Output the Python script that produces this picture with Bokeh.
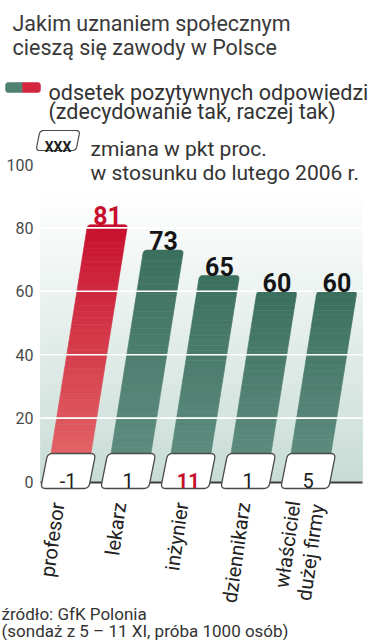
import numpy as np
from bokeh.plotting import figure
from bokeh.models import Range1d
from bokeh.core.properties import value
from bokeh.embed import file_html
from bokeh.resources import INLINE

# ---------------- data ----------------
categories = ["profesor", "lekarz", "inżynier", "dziennikarz", "właściciel\ndużej firmy"]
values = [81, 73, 65, 60, 60]
changes = ["-1", "1", "11", "1", "5"]
bar_highlight = [True, False, False, False, False]
change_highlight = [False, False, True, False, False]
y_ticks = [0, 20, 40, 60, 80, 100]
grid_ticks = [20, 40, 60, 80]
title_lines = ["Jakim uznaniem społecznym", "cieszą się zawody w Polsce"]
legend_lines = ["odsetek pozytywnych odpowiedzi", "(zdecydowanie tak, raczej tak)"]
change_lines = ["zmiana w pkt proc.", "w stosunku do lutego 2006 r."]
source_lines = ["źródło: GfK Polonia", "(sondaż z 5 – 11 XI, próba 1000 osób)"]

# ---------------- layout ----------------
W, H = 374, 640
Y0 = 481.0      # page pixel of value 0
K = 3.17        # pixels per percentage point
def V(Y):       # page pixel row -> value units
    return (Y0 - Y) / K

BAR_X0, BAR_STEP, BAR_W, SLANT = 66.0, 60.0, 40.0, 0.16
PLOT_L, PLOT_R, PLOT_TOP = 40.0, 362.0, 188.0
FONT = value("Roboto")

RED_TOP, RED_BOT = (200, 16, 46), (228, 108, 108)
GRN_TOP, GRN_BOT = (60, 112, 94), (98, 144, 132)
BG_TOP, BG_BOT = (255, 255, 255), (200, 220, 214)

def lerp(c1, c2, f):
    return "#%02x%02x%02x" % tuple(int(round(a + (b - a) * f)) for a, b in zip(c1, c2))

def rounded_poly(pts, radii, n=7):
    pts = np.array(pts, float)
    xs, us = [], []
    m = len(pts)
    for i in range(m):
        p = pts[i]
        r = radii[i]
        if r <= 0:
            xs.append(p[0]); us.append(p[1]); continue
        da = pts[i - 1] - p
        db = pts[(i + 1) % m] - p
        a = p + da / np.hypot(*da) * r
        b = p + db / np.hypot(*db) * r
        for t in np.linspace(0, 1, n):
            q = (1 - t) ** 2 * a + 2 * (1 - t) * t * p + t ** 2 * b
            xs.append(q[0]); us.append(q[1])
    return xs, [u / K for u in us]

def slanted_box(cx, u_bot, u_top, w, slant, radii):
    h2 = (u_top - u_bot) / 2.0
    pts = [(cx - w / 2 - slant * h2, u_bot), (cx + w / 2 - slant * h2, u_bot),
           (cx + w / 2 + slant * h2, u_top), (cx - w / 2 + slant * h2, u_top)]
    return rounded_poly(pts, radii)

p = figure(width=W, height=H, x_range=Range1d(0, W), y_range=Range1d(V(H), V(0)),
           output_backend="svg", toolbar_location=None, min_border=0,
           x_axis_location=None, y_axis_location=None)
p.grid.visible = False
p.outline_line_color = None
p.background_fill_color = "white"
p.border_fill_color = "white"

# ---- background gradient ----
NB = 60
top_v = V(PLOT_TOP)
bx, by, bc = [], [], []
for k in range(NB):
    v0 = top_v * k / NB
    v1 = top_v * (k + 1) / NB
    bx.append([PLOT_L, PLOT_R, PLOT_R, PLOT_L])
    by.append([v0, v0, v1, v1])
    bc.append(lerp(BG_BOT, BG_TOP, (k + 0.5) / NB))
p.patches(xs=bx, ys=by, fill_color=bc, line_color=bc, line_width=0.8)

# ---- bars (slanted, gradient) ----
xs, ys, cs = [], [], []
NS = 40
CAP = 5.0
for i, val in enumerate(values):
    cx0 = BAR_X0 + i * BAR_STEP
    ctop, cbot = (RED_TOP, RED_BOT) if bar_highlight[i] else (GRN_TOP, GRN_BOT)
    u_top = val * K
    u_cap = u_top - CAP
    for k in range(NS):
        u0 = u_cap * k / NS
        u1 = u_cap * (k + 1) / NS
        c0 = cx0 + SLANT * u0
        c1 = cx0 + SLANT * u1
        xs.append([c0 - BAR_W / 2, c0 + BAR_W / 2, c1 + BAR_W / 2, c1 - BAR_W / 2])
        ys.append([u0 / K, u0 / K, u1 / K, u1 / K])
        cs.append(lerp(cbot, ctop, (u0 + u1) / 2 / u_top))
    cmid = cx0 + SLANT * (u_cap + CAP / 2)
    px, py = slanted_box(cmid, u_cap - 0.3, u_top, BAR_W, SLANT, [0, 0, 3.5, 3.5])
    xs.append(px); ys.append(py); cs.append(lerp(cbot, ctop, 1.0))
p.patches(xs=xs, ys=ys, fill_color=cs, line_color=cs, line_width=0.6)

# ---- grid lines (on top of bars) ----
p.segment(x0=[PLOT_L] * len(grid_ticks), x1=[PLOT_R] * len(grid_ticks),
          y0=grid_ticks, y1=grid_ticks, line_color="white", line_width=1.6)

# ---- baseline ----
p.segment(x0=[PLOT_L], x1=[PLOT_R], y0=[-0.3], y1=[-0.3], line_color="#3c3c3c", line_width=2)

# ---- tick labels ----
p.text(x=[33] * len(y_ticks), y=y_ticks, text=[str(t) for t in y_ticks],
       text_font=FONT, text_font_size="16px", text_color="#4a4a4a",
       text_align="right", text_baseline="middle")

# ---- value labels ----
vx = [BAR_X0 + i * BAR_STEP + SLANT * v * K for i, v in enumerate(values)]
vy = [v + 2.9 for v in values]
vcol = ["#c8102e" if h else "#151515" for h in bar_highlight]
p.text(x=vx, y=vy, text=[str(v) for v in values], text_font=FONT, text_font_size="25px",
       text_font_style="bold", text_color=vcol, text_align="center", text_baseline="alphabetic")

# ---- change boxes ----
BOX_UB, BOX_UT, BOX_W, BOX_SL = Y0 - 488, Y0 - 453, 48.0, 0.2
bxs, bys, tx = [], [], []
for i in range(len(values)):
    um = (BOX_UB + BOX_UT) / 2
    cx = BAR_X0 + i * BAR_STEP + SLANT * um
    px, py = slanted_box(cx, BOX_UB, BOX_UT, BOX_W, BOX_SL, [5, 5, 5, 5])
    bxs.append(px); bys.append(py); tx.append(cx)
p.patches(xs=bxs, ys=bys, fill_color="white", line_color="#4a4a4a", line_width=1.3)
ccol = ["#c8102e" if h else "#1e1e1e" for h in change_highlight]
cstyle = ["bold" if h else "normal" for h in change_highlight]
for i in range(len(changes)):
    p.text(x=[tx[i]], y=[V(479.5)], text=[changes[i]], text_font=FONT, text_font_size="20px",
           text_font_style=cstyle[i], text_color=ccol[i], text_align="center",
           text_baseline="alphabetic")

# ---- category labels (rotated) ----
lx = [57 + 62 * i for i in range(len(categories))]
p.text(x=lx, y=[V(502)] * len(categories), text=categories, angle=np.deg2rad(82),
       text_font=FONT, text_font_size="20px", text_color="#222222",
       text_align="right", text_baseline="middle", text_line_height=1.0)

# ---- title ----
p.text(x=[12, 12], y=[V(23), V(47)], text=title_lines, text_font=FONT, text_font_size="21.5px",
       text_color="#3a3a3a", text_align="left", text_baseline="alphabetic")

# ---- legend: swatch ----
SW_UB, SW_UT = Y0 - 92, Y0 - 82
gx, gy = slanted_box(13.5, SW_UB, SW_UT, 17, 0.0, [3, 0, 0, 3])
rx, ry = slanted_box(31, SW_UB, SW_UT, 18, 0.0, [0, 3, 3, 0])
p.patches(xs=[gx, rx], ys=[gy, ry], fill_color=["#4f8170", "#d3253e"],
          line_color=["#4f8170", "#d3253e"], line_width=0.5)
p.text(x=[48, 48], y=[V(92), V(111)], text=legend_lines, text_font=FONT, text_font_size="21.5px",
       text_color="#333333", text_align="left", text_baseline="alphabetic")

# ---- legend: change box ----
kx, ky = slanted_box(57.5, Y0 - 150, Y0 - 130, 40, 0.2, [4, 4, 4, 4])
p.patch(x=kx, y=ky, fill_color="white", line_color="#4a4a4a", line_width=1.2)
p.text(x=[57.5], y=[V(146)], text=["XXX"], text_font=FONT, text_font_size="14px",
       text_font_style="bold", text_color="#1e1e1e", text_align="center", text_baseline="alphabetic")
p.text(x=[90, 90], y=[V(148), V(172)], text=change_lines, text_font=FONT, text_font_size="21px",
       text_color="#333333", text_align="left", text_baseline="alphabetic")

# ---- source ----
p.text(x=[1, 1], y=[V(613), V(630)], text=source_lines, text_font=FONT, text_font_size="17px",
       text_color="#333333", text_align="left", text_baseline="alphabetic")

open("out.html", "w").write(file_html(p, INLINE))
